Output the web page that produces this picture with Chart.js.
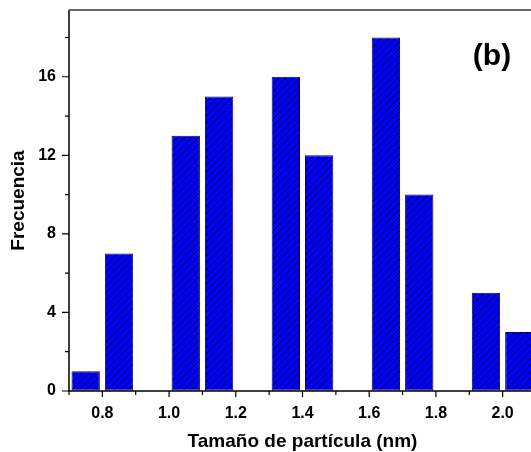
<!DOCTYPE html>
<html>
<head>
<meta charset="utf-8">
<script src="https://cdn.jsdelivr.net/npm/chart.js@4.4.1/dist/chart.umd.min.js"></script>
<style>
  html, body { margin: 0; padding: 0; background: #fff; overflow: hidden; }
  #wrap { width: 540px; height: 452px; }
</style>
</head>
<body>
<div id="wrap"><canvas id="c" width="540" height="452"></canvas></div>
<script>
// Particle size histogram (bin centres, nm) and counts
const binCenters = [0.75, 0.85, 1.05, 1.15, 1.35, 1.45, 1.65, 1.75, 1.95, 2.05];
const counts     = [1, 7, 13, 15, 16, 12, 18, 10, 5, 3];
const xMajorTicks = [0.8, 1.0, 1.2, 1.4, 1.6, 1.8, 2.0];
const xMinorTicks = [0.7, 0.9, 1.1, 1.3, 1.5, 1.7, 1.9, 2.1];
const yMajorTicks = [0, 4, 8, 12, 16];
const yMinorTicks = [2, 6, 10, 14, 18];

const FONT = "'Liberation Sans', Arial, sans-serif";

// Blue fill with diagonal hatching
function hatchPattern() {
  const s = 7;
  const off = document.createElement('canvas');
  off.width = s; off.height = s;
  const g = off.getContext('2d');
  g.fillStyle = '#0000ff';
  g.fillRect(0, 0, s, s);
  g.strokeStyle = '#000';
  g.lineWidth = 0.9;
  g.beginPath();
  g.moveTo(-1, s + 1); g.lineTo(s + 1, -1);
  g.moveTo(-1, 1); g.lineTo(1, -1);
  g.moveTo(s - 1, s + 1); g.lineTo(s + 1, s - 1);
  g.stroke();
  return g.createPattern(off, 'repeat');
}

// Frame, outward tick marks and the panel label
const framePlugin = {
  id: 'frame',
  afterDraw(chart) {
    const { ctx, chartArea: a, scales: { x, y } } = chart;
    ctx.save();
    ctx.strokeStyle = '#000';
    ctx.lineWidth = 1.5;
    ctx.beginPath();
    ctx.moveTo(a.left, a.top); ctx.lineTo(a.left, a.bottom); ctx.lineTo(a.right, a.bottom);
    ctx.stroke();
    ctx.strokeStyle = '#333';
    ctx.beginPath();
    ctx.moveTo(a.left, a.top); ctx.lineTo(a.right, a.top);
    ctx.stroke();

    ctx.strokeStyle = '#000';
    ctx.lineWidth = 1.2;
    ctx.beginPath();
    xMajorTicks.forEach(v => { const p = x.getPixelForValue(v); ctx.moveTo(p, a.bottom); ctx.lineTo(p, a.bottom + 6); });
    xMinorTicks.forEach(v => { const p = x.getPixelForValue(v); ctx.moveTo(p, a.bottom); ctx.lineTo(p, a.bottom + 4); });
    yMajorTicks.forEach(v => { const p = y.getPixelForValue(v); ctx.moveTo(a.left, p); ctx.lineTo(a.left - 7, p); });
    yMinorTicks.forEach(v => { const p = y.getPixelForValue(v); ctx.moveTo(a.left, p); ctx.lineTo(a.left - 4, p); });
    ctx.stroke();

    ctx.fillStyle = '#000';
    ctx.font = 'bold 30px ' + FONT;
    ctx.textAlign = 'center';
    ctx.textBaseline = 'middle';
    ctx.fillText('(b)', 492, 57);
    ctx.restore();
  }
};

new Chart(document.getElementById('c'), {
  type: 'bar',
  data: {
    datasets: [{
      data: binCenters.map((c, i) => ({ x: c, y: counts[i] })),
      backgroundColor: hatchPattern(),
      borderColor: '#0a0a3a',
      borderWidth: 1,
      borderSkipped: false,
      barPercentage: 0.85,
      categoryPercentage: 1.0
    }]
  },
  options: {
    responsive: false,
    animation: false,
    layout: { padding: { left: 9, top: 10, right: 4, bottom: 0 } },
    plugins: { legend: { display: false }, tooltip: { enabled: false } },
    scales: {
      x: {
        type: 'linear',
        min: 0.7, max: 2.1,
        offset: false,
        afterBuildTicks: s => { s.ticks = xMajorTicks.map(v => ({ value: v })); },
        afterFit: s => { s.height = 61; s.paddingLeft = 0; s.paddingRight = 0; },
        border: { display: false },
        grid: { drawOnChartArea: false, drawTicks: true, tickLength: 6, tickColor: 'rgba(0,0,0,0)' },
        ticks: {
          padding: 7,
          color: '#000',
          font: { family: FONT, size: 16, weight: 'bold' },
          callback: v => Number(v).toFixed(1),
          maxRotation: 0
        },
        title: {
          display: true,
          text: 'Tamaño de partícula (nm)',
          color: '#000',
          font: { family: FONT, size: 19, weight: 'bold', lineHeight: 1 },
          padding: { top: 0, bottom: 0.5 }
        }
      },
      y: {
        min: 0, max: 19.4,
        afterBuildTicks: s => { s.ticks = yMajorTicks.map(v => ({ value: v })); },
        afterFit: s => { s.width = 60; s.paddingTop = 0; s.paddingBottom = 0; },
        border: { display: false },
        grid: { drawOnChartArea: false, drawTicks: true, tickLength: 6, tickColor: 'rgba(0,0,0,0)' },
        ticks: {
          padding: 7,
          color: '#000',
          font: { family: FONT, size: 16, weight: 'bold' }
        },
        title: {
          display: true,
          text: 'Frecuencia',
          color: '#000',
          font: { family: FONT, size: 19, weight: 'bold', lineHeight: 1 },
          padding: { top: 0, bottom: 0 }
        }
      }
    }
  },
  plugins: [framePlugin]
});
</script>
</body>
</html>
